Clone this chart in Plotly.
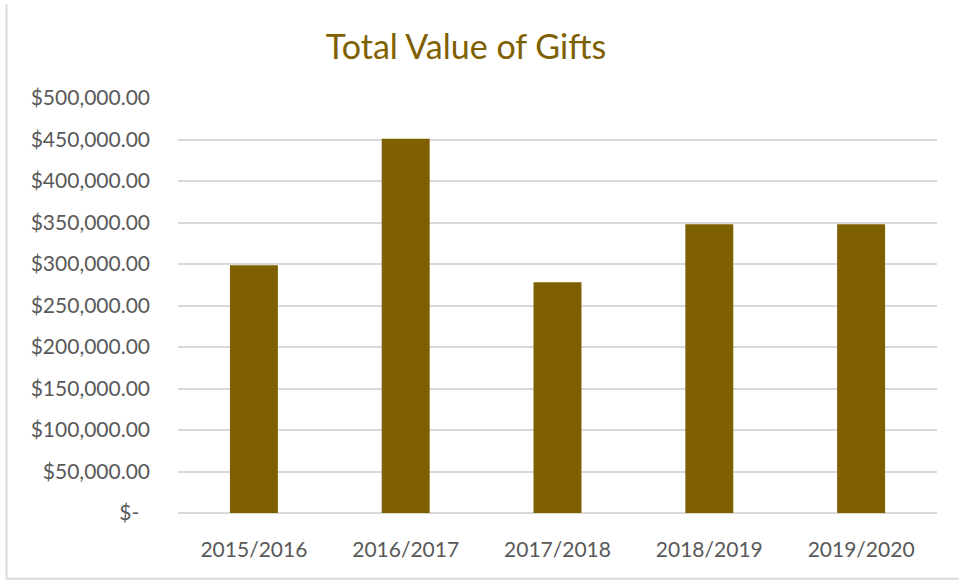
import plotly.graph_objects as go

categories = ["2015/2016", "2016/2017", "2017/2018", "2018/2019", "2019/2020"]
gift_values = [298500, 451000, 278000, 348000, 348000]
y_tick_values = [0, 50000, 100000, 150000, 200000, 250000, 300000, 350000, 400000, 450000, 500000]
y_tick_labels = ["$-\u00a0\u00a0", "$50,000.00", "$100,000.00", "$150,000.00", "$200,000.00",
                 "$250,000.00", "$300,000.00", "$350,000.00", "$400,000.00", "$450,000.00", "$500,000.00"]

BAR = "#7F6000"
GRID = "#D9D9D9"
TXT = "#595959"
FONT = "Lato, Carlito, Liberation Sans, sans-serif"

fig = go.Figure(go.Bar(x=categories, y=gift_values, marker=dict(color=BAR, line=dict(width=0))))

fig.update_layout(
    template="none",
    width=959, height=580,
    margin=dict(l=178, r=22, t=98, b=67, pad=0),
    paper_bgcolor="white", plot_bgcolor="white",
    bargap=0.684,
    showlegend=False,
    font=dict(family=FONT, color=TXT),
    title=dict(text="Total Value of Gifts", x=466/959, xanchor="center",
               y=1 - 47/580, yanchor="middle", yref="container",
               font=dict(family=FONT, size=34, color=BAR)),
)
fig.update_yaxes(range=[0, 500000], tickvals=y_tick_values, ticktext=y_tick_labels,
                 showgrid=True, gridcolor=GRID, gridwidth=1.5,
                 zeroline=True, zerolinecolor=GRID, zerolinewidth=1.5,
                 showline=False, ticks="", ticklabelstandoff=27,
                 tickfont=dict(size=21, color=TXT, family=FONT))
fig.update_xaxes(showgrid=False, showline=False, ticks="", ticklabelstandoff=22,
                 tickfont=dict(size=21, color=TXT, family=FONT))

# chart frame (left and bottom edges visible)
fig.add_shape(type="line", xref="paper", yref="paper",
              x0=(6.5 - 178) / 759, x1=(6.5 - 178) / 759,
              y0=(512.7 - 578.5) / 415, y1=(512.7 - 4) / 415,
              line=dict(color=GRID, width=2))
fig.add_shape(type="line", xref="paper", yref="paper",
              x0=(6.5 - 178) / 759, x1=(970 - 178) / 759,
              y0=(512.7 - 578.5) / 415, y1=(512.7 - 578.5) / 415,
              line=dict(color=GRID, width=2))

fig.write_html("out.html", config={"displayModeBar": False},
               post_script="document.body.style.margin='0';document.body.style.overflow='hidden';")
